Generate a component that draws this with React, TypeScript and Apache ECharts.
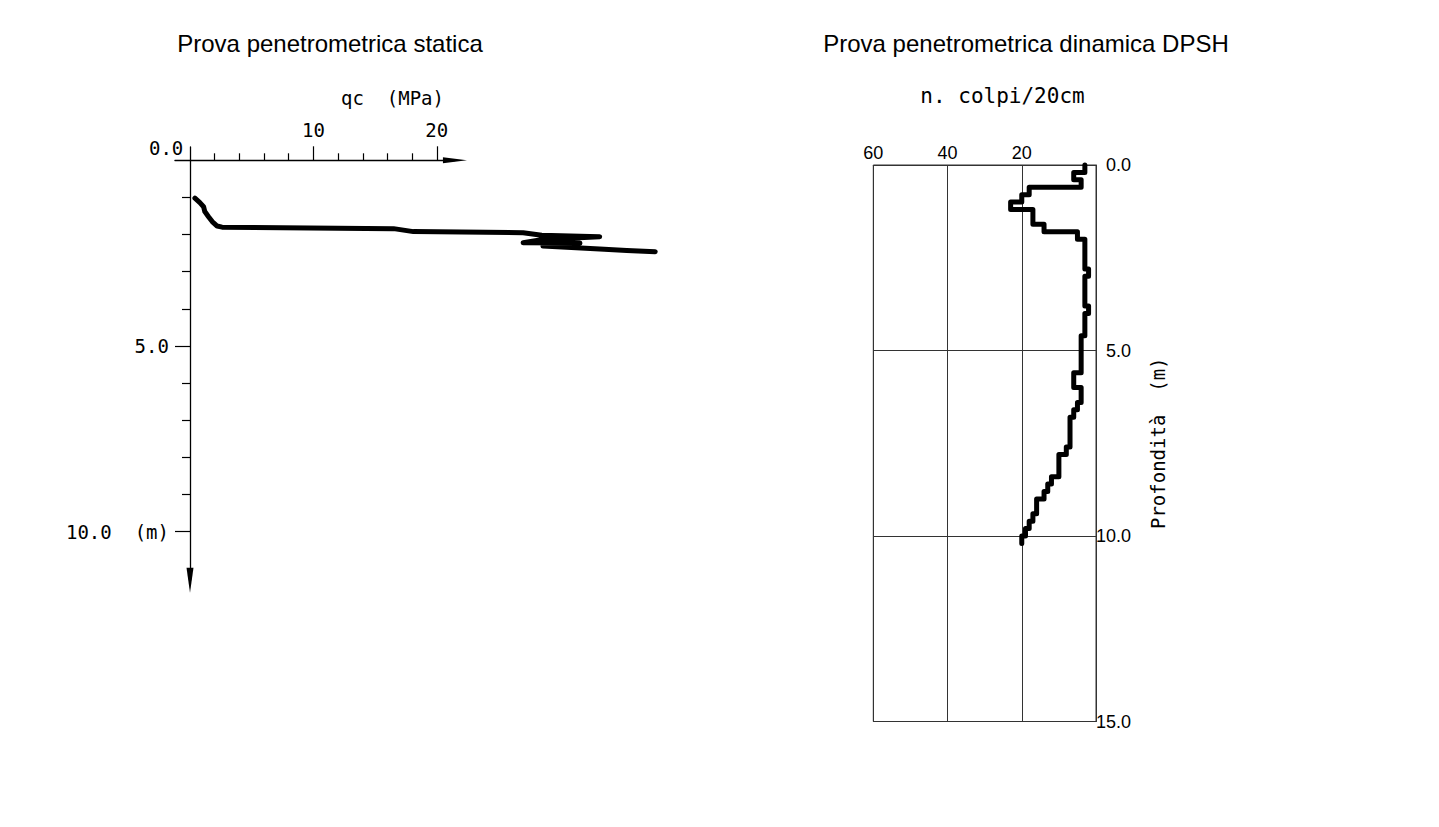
import React, { useEffect, useRef } from "react";
import * as echarts from "echarts";

// ---- Static penetration test (CPT): depth (m) and cone resistance qc (MPa)
const cptDepth = [1.02, 1.14, 1.25, 1.38, 1.52, 1.65, 1.77, 1.8, 1.84, 1.92, 1.95, 2.02, 2.06, 2.13, 2.22, 2.23, 2.31, 2.39, 2.43, 2.46];
const cptQc = [0.4, 0.8, 1.1, 1.2, 1.5, 1.8, 2.2, 2.6, 16.5, 18.1, 27.0, 28.5, 33.2, 28.6, 27.0, 31.6, 28.6, 33.2, 35.4, 37.7];

// ---- Dynamic penetration test (DPSH): blows per 20 cm, from 0.0 m downwards
const dpshStep = 0.2;
const dpshBlows = [
  3, 6, 4, 18, 20, 23, 17, 17, 14, 5,
  3, 3, 3, 3, 2, 3, 3, 3, 3, 2,
  3, 3, 3, 4, 4, 4, 4, 4, 6, 6,
  4, 4, 5, 6, 7, 7, 7, 7, 8, 10,
  10, 10, 12, 13, 14, 16, 16, 17, 18, 19,
  20,
];

// ---- Tick values / labels
const cptMajorX = [10, 20];
const cptMinorX = [2, 4, 6, 8, 12, 14, 16, 18];
const cptMajorY = [5, 10];
const cptMinorY = [1, 2, 3, 4, 6, 7, 8, 9];

// ---- Layout constants
const MONO = "'DejaVu Sans Mono', monospace";
const SANS = "'Liberation Sans', Arial, sans-serif";
const PX_MPA = 12.34;
const PX_M = 37.14;
const OX = 190;
const OY = 160.3;
const XMIN = -1.22;
const XMAX = 21.47;
const XDATAMAX = 40;
const YMIN = -0.36;
const YMAX = 11.31;

export default function App() {
  const ref = useRef<HTMLDivElement>(null);

  useEffect(() => {
    if (!ref.current) return;
    const chart = echarts.init(ref.current, null, { renderer: "svg" });

    const cptData = cptDepth.map((d, i) => [cptQc[i], d]);
    const dpshData: number[][] = [];
    dpshBlows.forEach((v, i) => {
      dpshData.push([v, +(i * dpshStep).toFixed(2)]);
      dpshData.push([v, +((i + 1) * dpshStep).toFixed(2)]);
    });

    const leftGrid = {
      left: OX + XMIN * PX_MPA,
      top: OY + YMIN * PX_M,
      width: (XMAX - XMIN) * PX_MPA,
      height: (YMAX - YMIN) * PX_M,
      containLabel: false,
    };
    const dataGrid = { ...leftGrid, width: (XDATAMAX - XMIN) * PX_MPA };

    const option: any = {
      animation: false,
      backgroundColor: "#fff",
      grid: [
        dataGrid,
        leftGrid,
        { ...leftGrid },
        { left: 873.3, top: 165, width: 222.7, height: 556.5, show: true, borderColor: "#333", borderWidth: 1, containLabel: false },
      ],
      xAxis: [
        { type: "value", gridIndex: 0, min: XMIN, max: XDATAMAX, show: false },
        {
          type: "value", gridIndex: 1, min: XMIN, max: XMAX, position: "top",
          axisLine: { show: true, onZero: true, symbol: ["none", "triangle"], symbolSize: [6, 24], lineStyle: { color: "#000", width: 1.3 } },
          axisTick: { show: true, customValues: cptMajorX, length: 14, lineStyle: { color: "#000", width: 1.2 } },
          axisLabel: { show: true, customValues: cptMajorX, margin: 7, fontFamily: MONO, fontSize: 19, color: "#000" },
          splitLine: { show: false },
        },
        {
          type: "value", gridIndex: 2, min: XMIN, max: XMAX, position: "top",
          axisLine: { show: true, onZero: true, lineStyle: { opacity: 0 } },
          axisTick: { show: true, customValues: cptMinorX, length: 7, lineStyle: { color: "#000", width: 1.2 } },
          axisLabel: { show: false },
          splitLine: { show: false },
        },
        {
          type: "value", gridIndex: 3, min: 0, max: 60, interval: 20, inverse: true, position: "top",
          axisLine: { show: true, lineStyle: { color: "#333", width: 1 } },
          axisTick: { show: false },
          axisLabel: { show: true, margin: 3, fontFamily: SANS, fontSize: 18, color: "#000", formatter: (v: number) => (v === 0 ? "" : String(v)) },
          splitLine: { show: true, lineStyle: { color: "#333", width: 1 } },
        },
      ],
      yAxis: [
        { type: "value", gridIndex: 0, min: YMIN, max: YMAX, inverse: true, show: false },
        {
          type: "value", gridIndex: 1, min: YMIN, max: YMAX, inverse: true, position: "left",
          axisLine: { show: true, onZero: true, symbol: ["triangle", "none"], symbolSize: [7, 25], lineStyle: { color: "#000", width: 1.3 } },
          axisTick: { show: true, customValues: cptMajorY, length: 15, lineStyle: { color: "#000", width: 1.2 } },
          axisLabel: {
            show: true, customValues: cptMajorY, margin: 6, fontFamily: MONO, fontSize: 19, color: "#000",
            formatter: (v: number) => (v === 10 ? "10.0  (m)" : v.toFixed(1)),
          },
          splitLine: { show: false },
        },
        {
          type: "value", gridIndex: 2, min: YMIN, max: YMAX, inverse: true, position: "left",
          axisLine: { show: true, onZero: true, lineStyle: { opacity: 0 } },
          axisTick: { show: true, customValues: cptMinorY, length: 8, lineStyle: { color: "#000", width: 1.2 } },
          axisLabel: { show: false },
          splitLine: { show: false },
        },
        {
          type: "value", gridIndex: 3, min: 0, max: 15, interval: 5, inverse: true, position: "right",
          axisLine: { show: true, lineStyle: { color: "#333", width: 1 } },
          axisTick: { show: false },
          axisLabel: { show: true, align: "right", margin: 35, fontFamily: SANS, fontSize: 18, color: "#000", formatter: (v: number) => v.toFixed(1) },
          splitLine: { show: true, lineStyle: { color: "#333", width: 1 } },
          name: "Profondità  (m)", nameLocation: "middle", nameRotate: 90, nameGap: 52,
          nameTextStyle: { fontFamily: MONO, fontSize: 19, color: "#000" },
        },
      ],
      series: [
        {
          type: "line", xAxisIndex: 0, yAxisIndex: 0, data: cptData, showSymbol: false, clip: false, silent: true,
          lineStyle: { color: "#000", width: 5, cap: "round", join: "round" },
        },
        {
          type: "line", xAxisIndex: 3, yAxisIndex: 3, data: dpshData, showSymbol: false, clip: false, silent: true,
          lineStyle: { color: "#000", width: 5, cap: "round", join: "round" },
        },
      ],
      graphic: [
        { type: "text", x: 330, y: 43, style: { text: "Prova penetrometrica statica", font: `24px ${SANS}`, fill: "#000", align: "center", verticalAlign: "middle", textAlign: "center", textVerticalAlign: "middle" } },
        { type: "text", x: 1026, y: 43, style: { text: "Prova penetrometrica dinamica DPSH", font: `24px ${SANS}`, fill: "#000", align: "center", verticalAlign: "middle", textAlign: "center", textVerticalAlign: "middle" } },
        { type: "text", x: 1002.5, y: 96, style: { text: "n. colpi/20cm", font: `21px ${MONO}`, fill: "#000", align: "center", verticalAlign: "middle", textAlign: "center", textVerticalAlign: "middle" } },
        { type: "text", x: 392.5, y: 98, style: { text: "qc  (MPa)", font: `19px ${MONO}`, fill: "#000", align: "center", verticalAlign: "middle", textAlign: "center", textVerticalAlign: "middle" } },
        { type: "text", x: 183.3, y: 147.5, style: { text: "0.0", font: `19px ${MONO}`, fill: "#000", align: "right", verticalAlign: "middle", textAlign: "right", textVerticalAlign: "middle" } },
      ],
    };
    chart.setOption(option);
    return () => chart.dispose();
  }, []);

  return <div ref={ref} style={{ position: "fixed", left: 0, top: 0, width: 1439, height: 827 }} />;
}
